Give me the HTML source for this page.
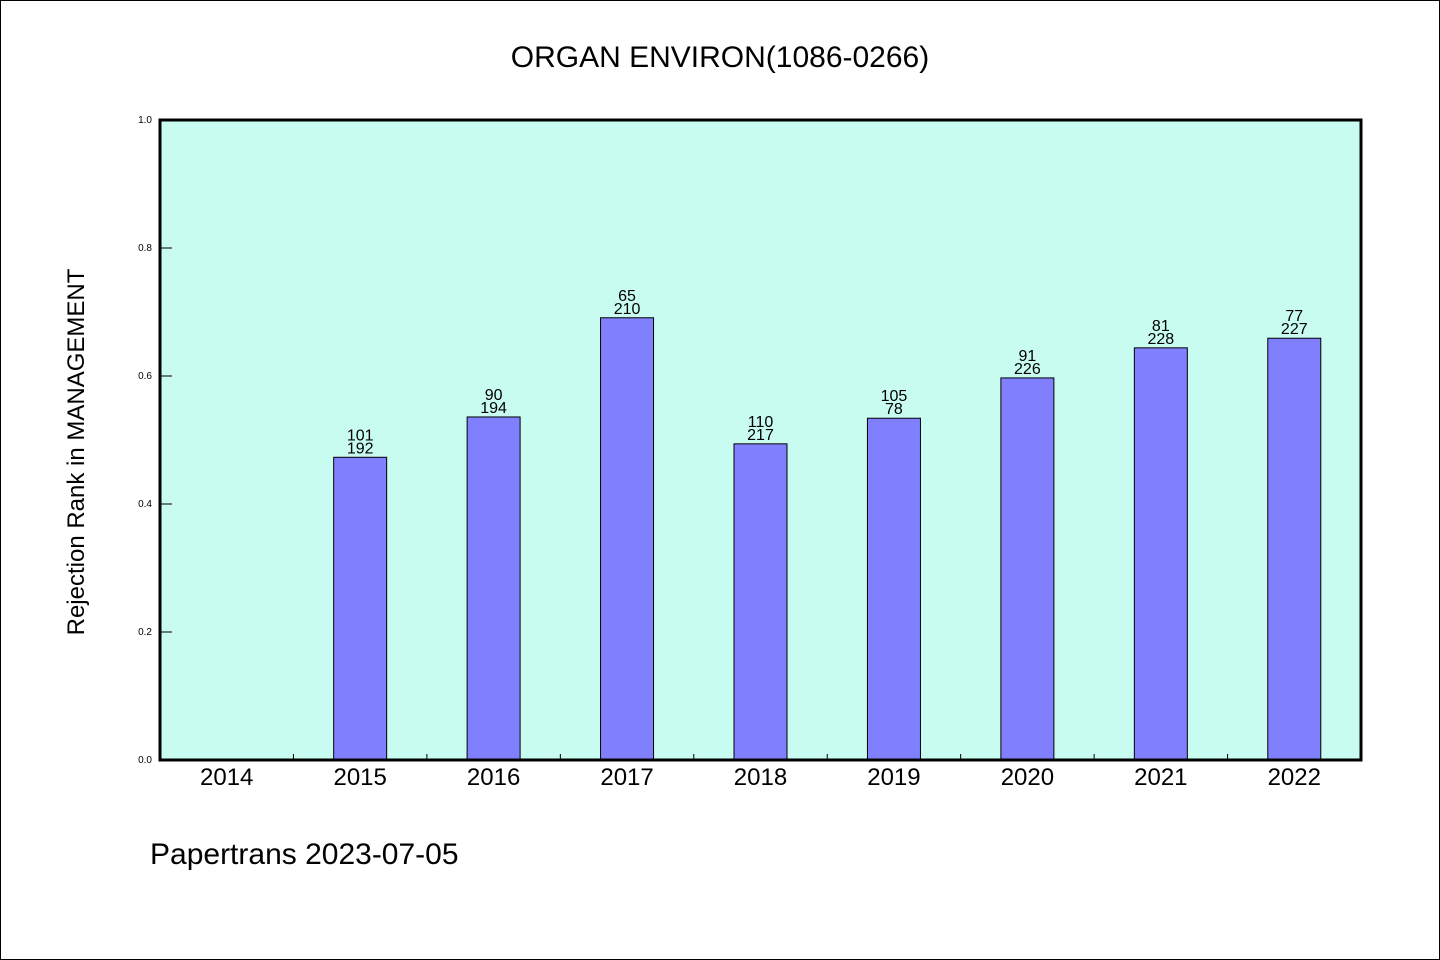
<!DOCTYPE html>
<html><head><meta charset="utf-8"><style>
html,body{margin:0;padding:0;background:#fff}
svg{display:block}
text{font-family:"WenQuanYi Zen Hei","Liberation Sans",sans-serif}
</style></head><body>
<svg id="c" width="1440" height="960">
<rect x="0.5" y="0.5" width="1439" height="959" fill="#fff" stroke="#000"/>
<text x="720" y="67" text-anchor="middle" font-size="30">ORGAN ENVIRON(1086-0266)</text>
<rect x="160" y="120" width="1201" height="640" fill="#c8fcf0"/>
<g id="g"></g>
<rect x="160" y="120" width="1201" height="640" fill="none" stroke="#000" stroke-width="3"/>
<text transform="translate(84,452) rotate(-90)" text-anchor="middle" font-size="24">Rejection Rank in MANAGEMENT</text>
<text x="150" y="864" font-size="30">Papertrans 2023-07-05</text>
</svg>
<script>
const categories=["2014","2015","2016","2017","2018","2019","2020","2021","2022"];
const values=[null,0.473,0.536,0.691,0.494,0.534,0.597,0.644,0.659];
const labelTop=["","101","90","65","110","105","91","81","77"];
const labelBottom=["","192","194","210","217","78","226","228","227"];
const yTicks=[0,0.2,0.4,0.6,0.8,1.0];
const X0=160,X1=1361,Y0=760,Y1=120;
const band=(X1-X0)/categories.length;
const y=v=>Y0-(v)*(Y0-Y1);
const xc=i=>X0+band*(i+0.5);
const g=document.getElementById('g');
const NS="http://www.w3.org/2000/svg";
function mk(t,a){const e=document.createElementNS(NS,t);for(const k in a)e.setAttribute(k,a[k]);g.appendChild(e);return e;}
yTicks.forEach(v=>{
 const l=mk('line',{x1:X0,x2:X0+12,y1:y(v),y2:y(v),stroke:'#000'});
 
 
 const t=mk('text',{x:X0-8,y:y(v)+3,'text-anchor':'end','font-size':10});
 t.textContent=v.toFixed(1);
 
 
});
categories.forEach((c,i)=>{
 if(i>0){const l=mk('line',{x1:X0+band*i,x2:X0+band*i,y1:Y0,y2:Y0-6,stroke:'#000'});
 
 }
 const t=mk('text',{x:xc(i),y:Y0+25,'text-anchor':'middle','font-size':24});
 t.textContent=c;
 
 
 const v=values[i];
 if(v!=null){
  const bw=53;
  const r=mk('rect',{x:xc(i)-bw/2,y:y(v),width:bw,height:Y0-y(v),fill:'#8080ff',stroke:'#000','stroke-width':1});
  
  
  const a=mk('text',{x:xc(i),y:y(v)-17,'text-anchor':'middle','font-size':16});
  a.textContent=labelTop[i];
  
  
  const b=mk('text',{x:xc(i),y:y(v)-4,'text-anchor':'middle','font-size':16});
  b.textContent=labelBottom[i];
  
  
 }
});
</script>
</body></html>
